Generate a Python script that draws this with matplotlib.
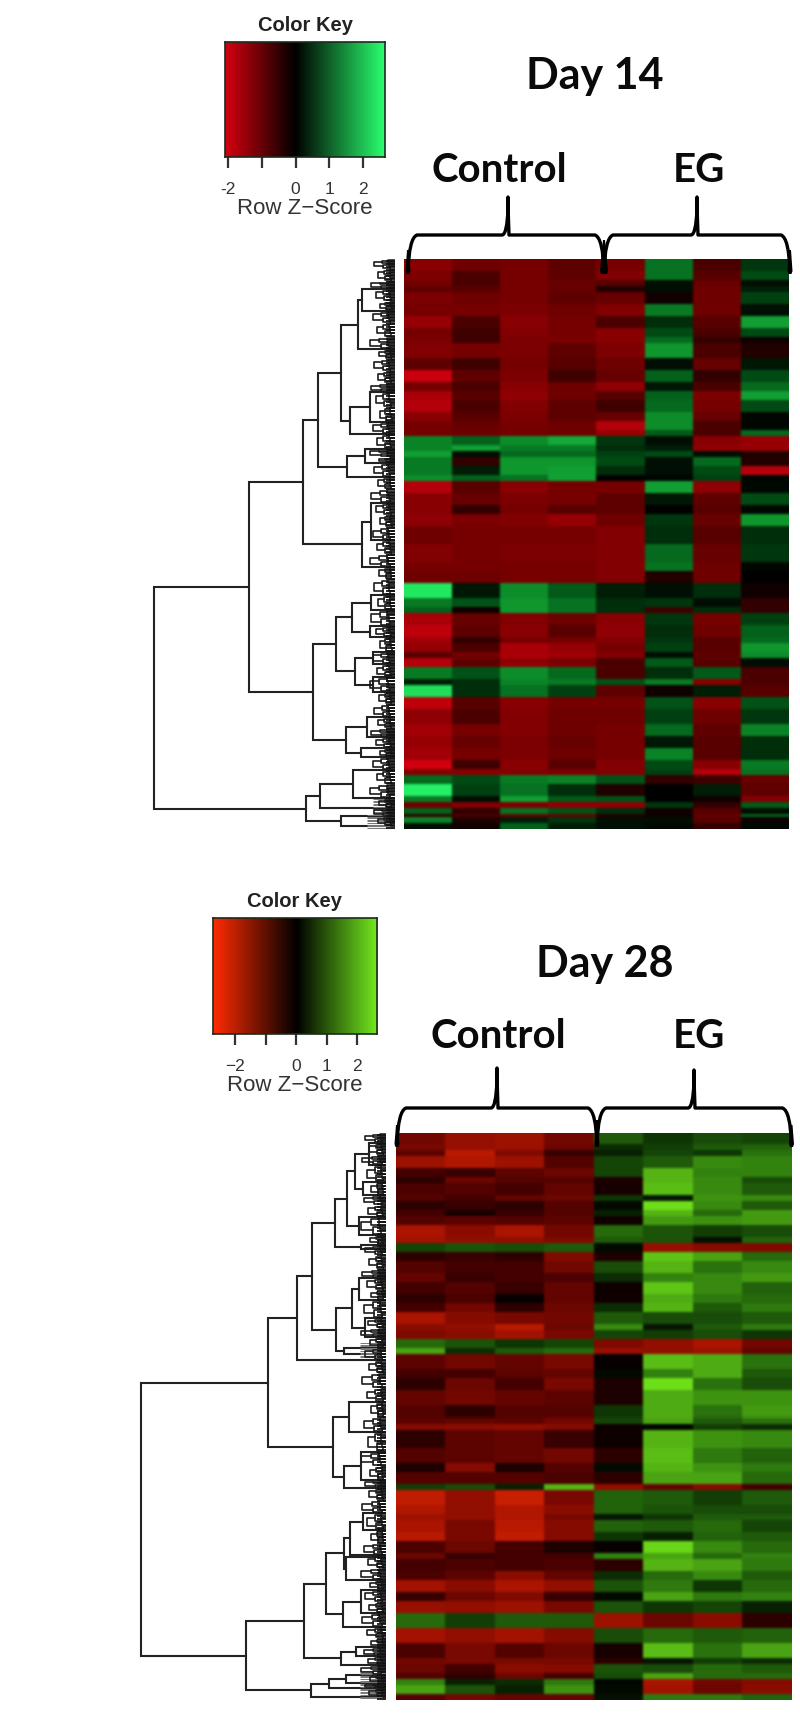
'''
Two heatmaps (day 14 and day 28) with colour key and row dendrogram.
Band values are z-scores read off the picture, one row of the lists per
horizontal band, band sizes in heatmap rows.
'''
import numpy as np
import matplotlib
matplotlib.use('Agg')
import matplotlib.pyplot as plt
from matplotlib.colors import LinearSegmentedColormap
from matplotlib.path import Path
from matplotlib.patches import PathPatch, Polygon

group_labels = ['Control', 'EG']
key_ticks = [-2, -1, 0, 1, 2]

day14_band_rows = [4, 3, 2, 2, 4, 4, 4, 3, 2, 5, 4, 4, 3, 3, 4, 3, 3, 2,
                   3, 2, 2, 3, 3, 2,
                   4, 4, 3, 4, 6, 6, 3, 4,
                   5, 3, 2, 4, 4,
                   2, 3, 2, 3, 4, 2, 4, 4, 5, 4, 4, 4, 3, 2,
                   3, 4, 2, 2, 2, 1, 2, 2]
day14_control = [[-1.3, -0.9, -1.0, -0.7], [-1.1, -0.5, -1.0, -0.7], [-1.0, -0.5, -1.0, -0.8],
                 [-0.7, -0.6, -1.0, -0.8], [-1.1, -0.9, -1.0, -0.7], [-1.0, -1.0, -1.1, -0.9],
                 [-1.5, -0.5, -1.3, -1.0], [-1.0, -0.4, -1.2, -1.0], [-1.1, -0.4, -1.1, -1.1],
                 [-1.2, -1.0, -1.1, -0.7], [-0.7, -0.4, -1.0, -0.6], [-2.0, -0.7, -1.1, -0.4],
                 [-1.0, -0.5, -1.3, -0.9], [-1.7, -0.6, -1.4, -0.9], [-1.8, -0.5, -1.2, -0.7],
                 [-1.3, -0.6, -1.1, -0.7], [-1.0, -0.8, -1.0, -0.9], [-1.0, -0.9, -1.0, -0.9],
                 [1.3, 0.9, 1.4, 1.7], [1.3, 1.6, 1.2, 1.2], [1.6, 0.1, 1.0, 1.0],
                 [1.2, -0.3, 1.5, 1.5], [1.2, 0.2, 1.5, 1.6], [1.4, 0.9, 1.1, 1.6],
                 [-1.8, -0.6, -1.3, -1.0], [-1.3, -0.8, -1.1, -1.0], [-1.3, -0.3, -1.0, -0.6],
                 [-1.4, -1.1, -1.2, -1.5], [-0.9, -1.0, -1.0, -1.0], [-1.2, -1.0, -1.1, -1.1],
                 [-1.0, -1.0, -1.0, -1.0], [-0.9, -0.9, -1.0, -1.0],
                 [2.4, 0.15, 1.4, 0.8], [1.2, 0.7, 1.5, 1.1], [0.9, -0.1, 1.5, 1.1],
                 [-1.7, -0.8, -1.2, -0.9], [-1.9, -0.7, -1.3, -0.6],
                 [-1.6, -0.3, -1.0, -1.0], [-1.5, -0.5, -1.7, -1.5], [-0.6, -1.0, -1.7, -1.6],
                 [-1.8, -0.7, -1.4, -1.1], [1.2, 0.7, 1.4, 1.0], [0.2, 0.3, 1.3, 1.2],
                 [2.3, 0.3, 1.1, 0.5], [-1.9, -0.6, -1.3, -1.0], [-1.4, -0.5, -1.2, -0.9],
                 [-1.6, -1.0, -1.2, -0.9], [-1.5, -0.8, -1.1, -0.8], [-1.6, -1.0, -1.1, -0.9],
                 [-2.1, -0.4, -1.3, -0.6], [-1.2, -1.3, -1.2, -1.1],
                 [1.0, 0.6, 1.2, 1.3], [2.5, 0.5, 1.1, 0.3], [1.2, 0.1, 1.6, 0.8],
                 [-0.9, -1.2, -1.1, -1.4], [0.9, -0.3, 1.1, 0.7], [-0.3, -0.5, -0.8, -0.8],
                 [1.3, -0.2, 0.2, 0.4], [0.1, -0.1, 0.9, 0.2]]
day14_eg = [[-1.0, 1.1, -0.5, 0.4], [-1.2, 1.1, -0.6, 0.6], [-0.6, 0.1, -0.8, 0.1],
            [-0.2, 0.1, -0.9, 0.2], [-0.8, -0.1, -0.9, 0.5], [-1.2, 1.2, -0.9, 0.1],
            [-0.5, 0.3, -0.6, 1.6], [-1.3, 0.6, -0.5, 0.6], [-1.3, 1.0, -0.3, -0.1],
            [-1.1, 1.5, -0.5, -0.2], [-0.9, 0.1, -0.8, 0.15], [-0.8, 0.9, -0.3, 0.6],
            [-1.4, 0.15, -0.5, 1.0], [-0.6, 0.9, -1.1, 1.6], [-0.4, 1.0, -1.0, 0.6],
            [-0.8, 1.4, -0.8, 0.05], [-1.8, 1.4, -0.5, 0.05], [-1.5, 0.8, -0.5, 1.0],
            [0.4, 0.1, -1.3, -1.5], [0.3, 0.2, -1.4, -1.5], [0.5, 0.6, 0.1, -0.2],
            [0.6, 0.1, 1.0, -0.2], [0.3, 0.1, 0.6, -1.8], [0.0, 0.05, 0.5, 0.05],
            [-1.0, 1.6, -1.4, 0.05], [-0.7, 0.15, -0.7, 0.6], [-0.7, 0.0, -0.6, 0.05],
            [-0.9, 0.4, -0.8, 1.5], [-1.2, 0.3, -0.6, 0.3], [-1.2, 1.0, -0.8, 0.4],
            [-1.2, 1.1, -0.9, 0.05], [-1.2, -0.2, -0.9, 0.0],
            [0.2, 0.1, 0.3, -0.1], [0.3, 0.4, 0.1, -0.3], [0.3, -0.4, 0.3, -0.3],
            [-1.3, 0.4, -1.0, 0.5], [-1.4, 0.3, -0.9, 0.9],
            [-1.2, 0.4, -0.6, 1.0], [-1.0, 0.5, -0.6, 1.5], [-1.2, 0.1, -0.7, 1.4],
            [-0.5, 0.8, -0.6, 0.1], [-0.5, 0.3, 0.8, -0.5], [0.7, 1.2, -1.3, -0.5],
            [-0.7, -0.1, 0.2, -0.6], [-1.0, 0.7, -1.3, 0.7], [-0.9, 0.5, -0.9, 0.4],
            [-1.0, 1.0, -0.7, 1.3], [-1.0, 0.15, -0.6, 0.3], [-1.0, 1.3, -0.6, 0.3],
            [-1.2, 0.6, -1.3, 1.2], [-1.2, 0.5, -1.8, 1.1],
            [0.7, -0.3, -0.4, -0.8], [-0.2, -0.0, 0.2, -0.7], [0.7, 0.0, -0.1, -1.2],
            [-1.4, 0.4, -0.3, 0.8], [0.3, -0.1, -0.6, 0.1], [-0.2, -0.1, -0.7, 0.9],
            [0.1, 0.1, -0.6, -0.1], [0.1, 0.05, -0.3, 0.05]]

day28_band_rows = [4, 2, 2, 4, 3, 2, 4, 2, 3, 2, 3, 4, 2, 3, 3, 4, 3, 4, 3, 3, 4,
                   2, 3, 3, 2, 5, 3, 4, 5, 4, 2, 2, 6, 5, 3, 4, 2, 5, 3,
                   2, 4, 3, 4, 2, 4, 3, 4, 3, 4, 5, 5, 5, 2, 3, 2, 2, 3, 2]
day28_control = [[-1.1, -1.7, -1.8, -1.1], [-1.2, -1.7, -1.8, -1.0], [-0.8, -2.2, -1.3, -0.4],
                 [-1.8, -2.1, -1.8, -0.7], [-0.5, -0.4, -0.8, -1.0], [-0.3, -1.0, -0.7, -0.7],
                 [-0.6, -0.7, -0.5, -0.9], [-0.7, -0.5, -0.9, -1.0], [-0.3, -0.4, -0.3, -0.7],
                 [-0.5, -0.15, -0.4, -0.7], [-0.7, -0.8, -0.7, -0.8], [-2.0, -1.5, -2.0, -1.1],
                 [-1.9, -1.6, -1.6, -1.3], [0.7, 0.9, 0.8, 1.0], [-0.3, -0.4, -0.3, -1.3],
                 [-0.7, -0.5, -0.5, -1.1], [-0.9, -0.4, -0.5, -0.6], [-0.5, -0.7, -0.4, -0.9],
                 [-0.3, -0.6, -0.05, -0.9], [-0.5, -1.1, -0.3, -1.0], [-2.0, -1.4, -1.2, -1.1],
                 [-1.5, -1.6, -2.2, -1.0], [-1.3, -1.5, -1.9, -1.2], [1.2, 0.9, 0.5, 0.7],
                 [1.9, 0.4, 1.0, 1.2], [-0.8, -1.1, -0.9, -1.2], [-0.5, -0.5, -0.8, -0.9],
                 [-0.3, -1.0, -0.5, -1.2], [-0.9, -1.1, -0.9, -0.8], [-0.7, -0.3, -0.7, -0.7],
                 [-0.8, -0.9, -0.8, -1.1], [-1.4, -1.5, -1.6, -1.4], [-0.3, -0.8, -0.9, -0.4],
                 [-0.7, -0.8, -0.9, -1.1], [-0.2, -1.4, -0.2, -0.7], [-0.7, -0.7, -0.7, -0.6],
                 [0.6, 0.8, 0.3, 2.1], [-2.3, -1.6, -2.4, -1.2], [-2.1, -1.6, -2.1, -1.5],
                 [-1.8, -1.6, -2.1, -1.2], [-2.0, -1.2, -2.2, -1.4], [-2.2, -1.2, -2.3, -1.4],
                 [-0.6, -1.0, -0.5, -0.2], [-1.0, -0.4, -0.5, -0.5], [-0.5, -0.6, -0.5, -0.6],
                 [-0.6, -0.8, -1.5, -0.9], [-1.9, -1.5, -2.0, -1.6], [-0.4, -1.0, -1.3, -0.4],
                 [-1.7, -1.6, -1.8, -1.2], [1.2, 0.6, 1.0, 1.0], [-1.9, -1.6, -1.9, -1.4],
                 [-0.6, -1.2, -0.7, -1.0], [-1.1, -1.2, -1.2, -1.2], [-1.0, -0.5, -1.5, -1.4],
                 [-0.7, -0.3, -1.0, -0.5], [1.5, 0.3, 0.4, 1.4], [1.9, 0.9, 0.3, 1.7],
                 [-0.7, -1.1, -0.9, -0.9]]
day28_eg = [[1.0, 0.5, 0.8, 0.7], [0.4, 0.6, 1.0, 1.1], [0.3, 0.7, 0.5, 1.3],
            [0.7, 1.0, 1.6, 1.5], [0.7, 2.1, 1.5, 1.5], [-0.2, 2.1, 1.6, 0.8],
            [-0.15, 2.2, 1.6, 1.0], [0.5, 0.2, 1.7, 1.6], [0.1, 2.6, 1.6, 1.0],
            [0.3, 2.1, 1.2, 1.8], [-0.1, 1.8, 1.7, 1.8], [1.2, 0.9, 0.6, 0.8],
            [1.0, 0.9, 0.15, 1.1], [0.1, -1.7, -1.4, -1.3], [-0.2, 2.3, 1.9, 1.2],
            [0.8, 2.1, 1.3, 1.6], [0.4, 1.5, 1.6, 1.8], [-0.1, 2.3, 1.6, 1.1],
            [-0.1, 2.0, 1.4, 1.2], [0.4, 2.1, 1.0, 1.4], [1.0, 0.8, 0.8, 1.0],
            [1.6, 0.2, 1.0, 1.4], [0.7, 0.6, 0.8, 0.5], [-1.3, -1.6, -2.0, -1.1],
            [-1.7, -1.6, -1.8, -0.9], [-0.05, 2.2, 2.0, 1.3], [0.1, 1.5, 2.0, 1.0],
            [-0.2, 2.6, 1.3, 0.8], [-0.2, 2.0, 1.7, 1.7], [0.5, 2.0, 1.3, 1.8],
            [0.7, 1.9, 1.0, 1.3], [-0.1, 0.05, 0.6, 0.4], [-0.1, 2.1, 1.7, 1.6],
            [-0.3, 2.2, 1.4, 1.1], [0.1, 2.1, 1.7, 1.4], [-0.3, 1.9, 1.9, 1.2],
            [-1.6, -0.9, -1.4, -0.5], [1.1, 1.0, 0.6, 1.0], [1.1, 0.9, 0.8, 0.8],
            [0.2, 0.5, 1.0, 1.0], [1.1, 1.0, 1.2, 0.7], [0.5, 0.3, 1.1, 1.0],
            [-0.05, 2.5, 1.6, 1.2], [1.5, 1.9, 1.2, 1.5], [-0.3, 2.1, 1.9, 1.4],
            [0.4, 1.2, 1.6, 1.0], [0.9, 1.4, 0.5, 1.2], [0.1, 1.9, 1.4, 1.5],
            [0.9, 0.5, 0.7, 0.3], [-1.8, -1.0, -1.5, -0.3], [0.8, 1.2, 1.0, 1.1],
            [-0.15, 2.2, 1.3, 1.9], [-0.3, 0.2, 0.6, 0.4], [0.9, 0.8, 1.2, 1.0],
            [0.8, 1.9, 1.2, 1.2], [0.05, -2.0, -1.1, -1.4], [0.1, -1.9, -1.0, -1.5],
            [0.15, 1.4, 1.4, 1.1]]

# dendrograms as nested (height, upper, lower), a plain number is a leaf position
day14_tree = (240.6,
              (146,
               (91.3,
                (77,
                 (53.5, (36.6, (32.8, 30, 52), 90), (45, (25, 133, 163), 175)),
                 (47.5, (29.4, 190, 204), 218)),
                (32.8, (24, 244, 281), 308)),
               (82,
                (59, (43, (24, 336, 351), (25, 367, 378)), (40, (22, 393, 405), (22, 418, 433))),
                (49, (28, 458, 478), (33.6, 489, 498)))),
              (88.4, (75, (42, 511, 539), 549), (54, 557, 567)))
day28_tree = (245.7,
              (118.8,
               (89,
                (74.8,
                 (51.3,
                  (39.7, (31.2, (17, 10, 32), (23, 49, 62)), (27.8, 84, 102)),
                  (25, 112, 116)),
                 (50, (34, (27, 145, 167), (21, 185, 204)), (42, 215, 221))),
                227),
               (53.4, (37, 269, 299), (42.7, (25, 319, 347), 355))),
              (140,
               (82,
                (60.7,
                 (42.7, (36, (23, 380, 397), 422), (40, 424, 447)),
                 (43, (25, 457, 480), 494)),
                (45, (30, 514, 523), 532)),
               (75, (57, (40, 542, 550), 555), 564)))

day14_twigs = [0, 10, 22, 30, 42, 52, 64, 78, 90, 100, 112, 124, 133, 148, 163, 175, 190, 198,
               204, 218, 230, 244, 256, 268, 281, 295, 308, 320, 336, 351, 367, 378, 393, 405,
               418, 433, 445, 458, 469, 478, 489, 498, 511, 525, 539, 549, 557, 567]
day28_twigs = [0, 10, 22, 32, 49, 62, 72, 84, 102, 112, 122, 136, 145, 157, 167, 185, 195, 204,
               215, 227, 240, 255, 269, 284, 299, 319, 333, 347, 355, 367, 380, 397, 410, 422,
               435, 447, 457, 469, 480, 494, 505, 514, 523, 532, 542, 550, 555, 564]
twig_heights = [21, 17, 24, 19, 15, 22, 18, 25, 16]
day14_grey = [(540, 570, 22), (556, 570, 28)]
day28_grey = [(210, 226, 26), (538, 566, 26)]

# colours of the key ends, and of the heat cells along z (cells are not linear with the key)
day14_stops = [(-2.1, (210, 0, 15)), (-1.5, (150, 0, 5)), (-1.0, (118, 0, 0)), (-0.6, (88, 0, 0)),
               (-0.3, (50, 0, 0)), (0, (0, 0, 0)), (0.3, (0, 45, 10)), (0.6, (0, 75, 20)),
               (1.0, (5, 105, 30)), (1.5, (15, 150, 45)), (2.66, (40, 255, 110))]
day28_stops = [(-2.74, (225, 40, 5)), (-2.0, (170, 20, 0)), (-1.0, (108, 6, 0)), (-0.5, (68, 0, 0)),
               (-0.3, (45, 0, 0)), (0, (0, 0, 0)), (0.5, (15, 55, 5)), (1.0, (30, 90, 10)),
               (1.5, (50, 130, 15)), (2.1, (85, 180, 20)), (2.63, (110, 225, 25))]


def px_axes(fig, x0, y0, x1, y1, **kw):
    # axes placed by pixel box, y counted from the top of the image
    W, H = 800., 1719.
    return fig.add_axes([x0/W, 1-y1/H, (x1-x0)/W, (y1-y0)/H], **kw)


def make_cmap(name, vmin, vmax, red, green):
    zero = -vmin/(vmax-vmin)
    return LinearSegmentedColormap.from_list(name, [(0, red), (zero, 'black'), (1, green)])


def make_heat_cmap(name, stops):
    vmin, vmax = stops[0][0], stops[-1][0]
    nodes = [((z-vmin)/(vmax-vmin), tuple(c/255. for c in rgb)) for z, rgb in stops]
    return LinearSegmentedColormap.from_list(name, nodes, N=512)


def draw_key(fig, box, vmin, vmax, cmap, ticklabels):
    ax = px_axes(fig, *box)
    grad = np.linspace(vmin, vmax, 256).reshape(1, -1)
    ax.imshow(grad, aspect='auto', cmap=cmap, vmin=vmin, vmax=vmax,
              extent=[vmin, vmax, 0, 1])
    ax.set_yticks([])
    ax.set_xticks(key_ticks)
    ax.set_xticklabels(ticklabels, family='Liberation Sans', fontsize=12.5, color='#333333')
    ax.tick_params(axis='x', length=8, width=1.6, color='#333333', pad=10)
    ax.set_xlabel('Row Z\u2212Score', family='Liberation Sans', fontsize=16, color='#333333',
                  labelpad=1)
    ax.set_title('Color Key', family='Liberation Sans', fontweight='bold', fontsize=14.5,
                 color='#222222', pad=8)
    for s in ax.spines.values():
        s.set_linewidth(1.2)
        s.set_color('#1c2a1c')
    return ax


def smooth(img, kernel, axis):
    # slight blur of the rgb cells, the reference is a resampled bitmap
    k = np.array(kernel, dtype=float)
    k = k/k.sum()
    pad = len(k)//2
    out = np.zeros_like(img)
    pads = [(0, 0)]*img.ndim
    pads[axis] = (pad, pad)
    padded = np.pad(img, pads, mode='edge')
    for i, w in enumerate(k):
        out += w*np.take(padded, np.arange(img.shape[axis])+i, axis=axis)
    return out


def draw_heat(fig, box, band_rows, control, eg, cmap):
    ax = px_axes(fig, *box)
    vals = np.hstack([np.array(control), np.array(eg)])
    hpx, wpx = int(round(box[3]-box[1])), int(round(box[2]-box[0]))
    edges = np.concatenate([[0], np.cumsum(band_rows)])/float(np.sum(band_rows))
    rowidx = np.searchsorted(edges, (np.arange(hpx)+0.5)/hpx)-1
    colidx = np.floor((np.arange(wpx)+0.5)/wpx*vals.shape[1]).astype(int)
    z = vals[rowidx][:, colidx]
    rgb = cmap((z-cmap.zmin)/(cmap.zmax-cmap.zmin))[:, :, :3]
    rgb = smooth(rgb, [1, 2, 3, 2, 1], 0)
    rgb = smooth(rgb, [1, 2, 3, 2, 1], 1)
    ax.imshow(rgb, aspect='auto', interpolation='nearest')
    ax.axis('off')
    return ax


def draw_tree(ax, node):
    # returns (height, position) of the node, draws its bracket
    if not isinstance(node, tuple):
        return 0, node
    h, upper, lower = node
    hu, yu = draw_tree(ax, upper)
    hl, yl = draw_tree(ax, lower)
    ax.plot([hu, h, h, hl], [yu, yu, yl, yl], color='#222222', lw=1.5,
            solid_joinstyle='miter')
    return h, (yu+yl)/2.


def bracket(ax, h0, h1, h, y0, y1, lw):
    ax.plot([h0, h, h, h1], [y0, y0, y1, y1], color='#1c1c1c', lw=lw)


def draw_dendro(fig, box, tree, twigs, grey):
    ax = px_axes(fig, *box)
    draw_tree(ax, tree)
    for y0, y1, h in grey:
        ys = np.arange(y0, y1, 1.6)
        ax.hlines(ys, 0, h, color='#777777', lw=0.7)
    for i in range(len(twigs)-1):
        y0, y1 = twigs[i]+0.5, twigs[i+1]-0.5
        h = twig_heights[i % len(twig_heights)]
        ym = (y0+y1)/2.
        qa, qb = (y0+ym)/2., (ym+y1)/2.
        bracket(ax, h*0.62, h*0.55, h, qa, qb, 1.2)
        bracket(ax, h*0.3, h*0.25, h*0.62, y0+1, ym-1, 1.2)
        bracket(ax, h*0.28, h*0.2, h*0.55, ym+1, y1-1, 1.2)
        bracket(ax, 0, 0, h*0.3, y0, qa, 1.1)
        bracket(ax, 0, 0, h*0.28, qa, ym, 1.1)
        bracket(ax, 0, 0, h*0.25, ym, qb, 1.1)
        bracket(ax, 0, 0, h*0.2, qb, y1, 1.1)
    rows = np.arange(1.5, box[3]-box[1], 3)
    ax.hlines(rows, 0, 9, color='#111111', lw=1.25)
    ax.set_xlim(box[2]-box[0], 0)
    ax.set_ylim(box[3]-box[1], 0)
    ax.axis('off')
    return ax


def brace(ax, x0, xpeak, x1, ytop, ybar, yend):
    verts = [(x0, yend), (x0+1, ybar+3), (x0+9, ybar), (xpeak-6, ybar), (xpeak-1, ybar),
             (xpeak, ytop+12), (xpeak, ytop), (xpeak, ytop+12), (xpeak+1, ybar),
             (xpeak+6, ybar), (x1-9, ybar), (x1-1, ybar+3), (x1, yend)]
    codes = [Path.MOVETO, Path.CURVE3, Path.CURVE3, Path.LINETO, Path.CURVE3, Path.CURVE3,
             Path.LINETO, Path.CURVE3, Path.CURVE3, Path.CURVE3, Path.LINETO, Path.CURVE3,
             Path.CURVE3]
    ax.add_patch(PathPatch(Path(verts, codes), fc='none', ec='black', lw=2.4,
                           capstyle='butt', joinstyle='round'))


def wedge(ax, x, y0, y1, w):
    # thick end of a brace, narrow at y0
    ax.add_patch(Polygon([(x-1, y0), (x+1, y0), (x+w/2., y1-3), (x+w/2.-1, y1), (x-w/2.+1, y1),
                          (x-w/2., y1-3)], fc='black', ec='none'))


fig = plt.figure(figsize=(8, 17.19), dpi=100, facecolor='white')

key14 = make_cmap('day14', -2.1, 2.66, (0.84, 0.0, 0.06), (0.16, 1.0, 0.43))
key28 = make_cmap('day28', -2.74, 2.63, (1.0, 0.17, 0.0), (0.45, 0.92, 0.12))
heat14 = make_heat_cmap('heat14', day14_stops)
heat14.zmin, heat14.zmax = day14_stops[0][0], day14_stops[-1][0]
heat28 = make_heat_cmap('heat28', day28_stops)
heat28.zmin, heat28.zmax = day28_stops[0][0], day28_stops[-1][0]

draw_key(fig, (225, 42, 385, 157), -2.1, 2.66, key14, ['-2', '', '0', '1', '2'])
draw_key(fig, (212.5, 918, 376.6, 1034), -2.74, 2.63, key28, ['\u22122', '', '0', '1', '2'])

draw_heat(fig, (404, 259, 789, 829), day14_band_rows, day14_control, day14_eg, heat14)
draw_heat(fig, (396, 1133, 791.5, 1700), day28_band_rows, day28_control, day28_eg, heat28)

draw_dendro(fig, (150, 259, 394.6, 829), day14_tree, day14_twigs, day14_grey)
draw_dendro(fig, (136, 1133, 386.4, 1700), day28_tree, day28_twigs, day28_grey)

# overlay in image pixels for the hand drawn labels and braces
over = px_axes(fig, 0, 0, 800, 1719)
over.set_xlim(0, 800)
over.set_ylim(1719, 0)
over.axis('off')
over.patch.set_alpha(0)

big = dict(family='Lato', fontweight='bold', ha='center', va='center', color='#0a0a0a')
over.text(594.5, 76, 'Day 14', fontsize=31, **big)
over.text(605, 964, 'Day 28', fontsize=31, **big)
for y, xc in [(171, 499), (1037, 498)]:
    over.text(xc, y, group_labels[0], fontsize=29, **big)
    over.text(699, y, group_labels[1], fontsize=29, **big)

brace(over, 408, 508, 604, 197, 235, 272)
brace(over, 604, 697, 790, 197, 235, 272)
wedge(over, 604, 240, 274, 8)
wedge(over, 408, 250, 274, 5)
wedge(over, 790, 250, 274, 5)

brace(over, 397, 497, 597, 1068, 1108, 1145)
brace(over, 597, 694, 791.5, 1070, 1108, 1145)
wedge(over, 597, 1120, 1147, 5)
wedge(over, 397, 1125, 1147, 5)
wedge(over, 791.5, 1125, 1147, 5)

fig.savefig('out.png', dpi=100)
